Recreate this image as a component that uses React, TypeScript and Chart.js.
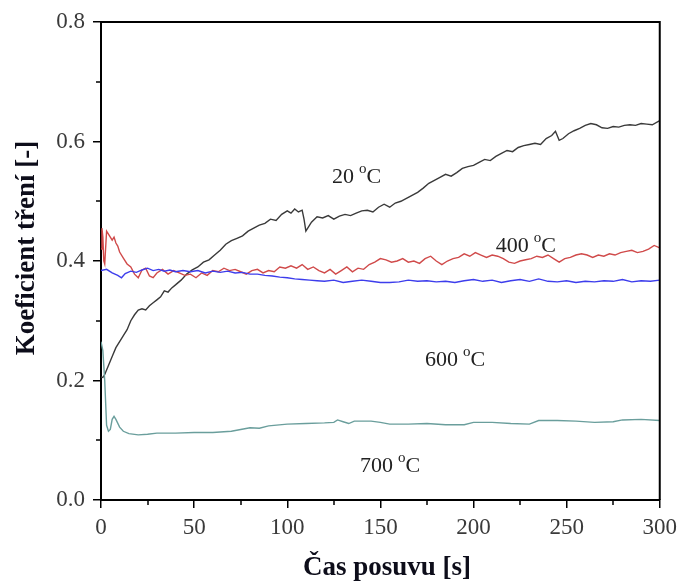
import React, { useEffect, useRef } from "react";
import { Chart, registerables } from "chart.js";

Chart.register(...registerables);

const xTicks = [0, 50, 100, 150, 200, 250, 300];
const yTicks = [0.0, 0.2, 0.4, 0.6, 0.8];
const xMinor = [25, 75, 125, 175, 225, 275];
const yMinor = [0.1, 0.3, 0.5, 0.7];

const t20 = [0, 1, 2, 4, 6, 8, 10, 12, 14, 16, 18, 20, 22, 24, 26, 28, 30, 32, 34, 36, 38, 40, 43, 46, 49, 52, 55, 58, 61, 64, 67, 70, 73, 76, 79, 82, 85, 88, 91, 94, 97, 100, 102, 104, 106, 108, 109, 110, 111, 113, 116, 119, 122, 125, 128, 131, 134, 137, 140, 143, 146, 149, 152, 155, 158, 161, 164, 167, 170, 173, 176, 179, 182, 185, 188, 191, 194, 197, 200, 203, 206, 209, 212, 215, 218, 221, 224, 227, 230, 233, 236, 239, 242, 244, 246, 248, 251, 254, 257, 260, 263, 266, 269, 272, 275, 278, 281, 284, 287, 290, 293, 296, 300];
const v20 = [0.206, 0.205, 0.21, 0.225, 0.24, 0.255, 0.265, 0.275, 0.285, 0.3, 0.31, 0.318, 0.32, 0.318, 0.325, 0.33, 0.335, 0.34, 0.35, 0.348, 0.355, 0.36, 0.368, 0.378, 0.385, 0.39, 0.398, 0.402, 0.41, 0.418, 0.428, 0.434, 0.438, 0.442, 0.45, 0.455, 0.46, 0.463, 0.47, 0.468, 0.478, 0.484, 0.48, 0.487, 0.482, 0.485, 0.47, 0.45, 0.455, 0.465, 0.474, 0.472, 0.476, 0.47, 0.475, 0.478, 0.476, 0.48, 0.484, 0.485, 0.482, 0.49, 0.495, 0.49, 0.497, 0.5, 0.505, 0.51, 0.515, 0.522, 0.53, 0.535, 0.54, 0.545, 0.542, 0.548, 0.555, 0.558, 0.56, 0.565, 0.57, 0.568, 0.575, 0.58, 0.585, 0.583, 0.59, 0.593, 0.595, 0.597, 0.595, 0.605, 0.61, 0.617, 0.602, 0.605, 0.613, 0.618, 0.622, 0.627, 0.63, 0.628, 0.623, 0.622, 0.625, 0.624, 0.627, 0.628, 0.627, 0.63, 0.629, 0.628, 0.635];

const t400 = [0, 0.5, 1, 1.5, 2, 3, 4, 5, 6, 7, 8, 9, 10, 12, 14, 16, 18, 20, 22, 24, 26, 28, 30, 33, 36, 39, 42, 45, 48, 51, 54, 57, 60, 63, 66, 69, 72, 75, 78, 81, 84, 87, 90, 93, 96, 99, 102, 105, 108, 111, 114, 117, 120, 123, 126, 129, 132, 135, 138, 141, 144, 147, 150, 153, 156, 159, 162, 165, 168, 171, 174, 177, 180, 183, 186, 189, 192, 195, 198, 201, 204, 207, 210, 213, 216, 219, 222, 225, 228, 231, 234, 237, 240, 243, 246, 249, 252, 255, 258, 261, 264, 267, 270, 273, 276, 279, 282, 285, 288, 291, 294, 297, 300];
const v400 = [0.42, 0.455, 0.44, 0.4, 0.395, 0.45, 0.445, 0.44, 0.435, 0.44, 0.43, 0.425, 0.415, 0.405, 0.395, 0.39, 0.378, 0.372, 0.385, 0.388, 0.375, 0.372, 0.38, 0.386, 0.378, 0.384, 0.38, 0.376, 0.378, 0.372, 0.38, 0.376, 0.384, 0.382, 0.388, 0.384, 0.386, 0.382, 0.378, 0.384, 0.386, 0.38, 0.384, 0.382, 0.39, 0.388, 0.392, 0.388, 0.394, 0.386, 0.39, 0.384, 0.38, 0.386, 0.378, 0.384, 0.39, 0.382, 0.388, 0.386, 0.394, 0.398, 0.404, 0.402, 0.398, 0.4, 0.404, 0.398, 0.4, 0.396, 0.404, 0.408, 0.4, 0.394, 0.4, 0.404, 0.406, 0.412, 0.408, 0.414, 0.41, 0.406, 0.41, 0.408, 0.404, 0.398, 0.396, 0.4, 0.402, 0.404, 0.408, 0.406, 0.41, 0.404, 0.398, 0.404, 0.406, 0.41, 0.412, 0.41, 0.406, 0.41, 0.408, 0.412, 0.41, 0.414, 0.416, 0.418, 0.414, 0.416, 0.42, 0.426, 0.422];

const t600 = [0, 3, 6, 9, 11, 13, 16, 19, 22, 25, 28, 31, 34, 37, 40, 44, 48, 52, 56, 60, 64, 68, 72, 76, 80, 84, 88, 92, 96, 100, 104, 108, 112, 116, 120, 125, 130, 135, 140, 145, 150, 155, 160, 165, 170, 175, 180, 185, 190, 195, 200, 205, 210, 215, 220, 225, 230, 235, 240, 245, 250, 255, 260, 265, 270, 275, 280, 285, 290, 295, 300];
const v600 = [0.384, 0.386, 0.38, 0.376, 0.372, 0.379, 0.383, 0.381, 0.385, 0.388, 0.384, 0.386, 0.383, 0.385, 0.382, 0.384, 0.382, 0.384, 0.38, 0.383, 0.381, 0.383, 0.38, 0.381, 0.378, 0.378, 0.376, 0.375, 0.373, 0.372, 0.37, 0.369, 0.368, 0.367, 0.366, 0.368, 0.364, 0.366, 0.368, 0.366, 0.364, 0.364, 0.365, 0.368, 0.366, 0.367, 0.365, 0.366, 0.364, 0.367, 0.369, 0.366, 0.368, 0.364, 0.367, 0.369, 0.366, 0.37, 0.366, 0.365, 0.367, 0.364, 0.366, 0.365, 0.367, 0.366, 0.369, 0.365, 0.367, 0.366, 0.368];

const t700 = [0, 1, 2, 3, 4, 5, 6, 7, 8, 10, 12, 15, 20, 25, 30, 40, 50, 60, 70, 75, 80, 85, 90, 100, 110, 120, 125, 127, 130, 133, 136, 145, 150, 155, 165, 175, 185, 195, 200, 210, 220, 230, 235, 245, 255, 265, 275, 280, 290, 300];
const v700 = [0.265, 0.25, 0.2, 0.125, 0.115, 0.118, 0.135, 0.14, 0.135, 0.122, 0.115, 0.111, 0.109, 0.11, 0.112, 0.112, 0.113, 0.113, 0.115, 0.118, 0.121, 0.12, 0.124, 0.127, 0.128, 0.129, 0.13, 0.134, 0.131, 0.128, 0.132, 0.132, 0.13, 0.127, 0.127, 0.128, 0.126, 0.126, 0.13, 0.13, 0.128, 0.127, 0.133, 0.133, 0.132, 0.13, 0.131, 0.134, 0.135, 0.133];

const labels = [
  { text: "20", t: 124, v: 0.53 },
  { text: "400", t: 212, v: 0.415 },
  { text: "600", t: 174, v: 0.225 },
  { text: "700", t: 139, v: 0.047 },
];

const SERIF = '"Liberation Serif", "Times New Roman", serif';

function pts(t: number[], v: number[]) {
  return t.map((x, i) => ({ x, y: v[i] }));
}

const decor = {
  id: "decor",
  afterDraw(chart: any) {
    const { ctx, chartArea } = chart;
    const xs = chart.scales.x;
    const ys = chart.scales.y;
    ctx.save();
    ctx.strokeStyle = "#000";
    ctx.lineWidth = 1.5;
    ctx.beginPath();
    for (const m of xMinor) {
      const px = Math.round(xs.getPixelForValue(m));
      ctx.moveTo(px, chartArea.bottom);
      ctx.lineTo(px, chartArea.bottom + 5);
    }
    for (const m of yMinor) {
      const py = Math.round(ys.getPixelForValue(m));
      ctx.moveTo(chartArea.left, py);
      ctx.lineTo(chartArea.left - 5, py);
    }
    ctx.stroke();
    ctx.lineWidth = 2;
    ctx.beginPath();
    ctx.moveTo(chartArea.left, chartArea.top);
    ctx.lineTo(chartArea.right, chartArea.top);
    ctx.lineTo(chartArea.right, chartArea.bottom);
    ctx.stroke();

    // temperature labels
    ctx.fillStyle = "#222";
    ctx.textBaseline = "alphabetic";
    ctx.textAlign = "left";
    for (const l of labels) {
      const x = xs.getPixelForValue(l.t);
      const y = ys.getPixelForValue(l.v);
      ctx.font = `22px ${SERIF}`;
      ctx.fillText(l.text, x, y);
      let cx = x + ctx.measureText(l.text).width + 5;
      ctx.font = `15px ${SERIF}`;
      ctx.fillText("o", cx, y - 10);
      cx += ctx.measureText("o").width;
      ctx.font = `22px ${SERIF}`;
      ctx.fillText("C", cx, y);
    }

    // axis titles
    ctx.fillStyle = "#0d0d1a";
    ctx.font = `bold 27px ${SERIF}`;
    ctx.textAlign = "center";
    ctx.textBaseline = "middle";
    ctx.fillText("Čas posuvu [s]", 387, 568);
    ctx.translate(27, 248);
    ctx.rotate(-Math.PI / 2);
    ctx.fillText("Koeficient tření [-]", 0, 0);
    ctx.restore();
  },
};

export default function App() {
  const ref = useRef<HTMLCanvasElement>(null);
  useEffect(() => {
    if (!ref.current) return;
    const tickFont = { family: SERIF, size: 23 };
    const chart = new Chart(ref.current, {
      type: "line",
      data: {
        datasets: [
          { label: "700 °C", data: pts(t700, v700), borderColor: "#6a9e9c", borderWidth: 1.4, pointRadius: 0, tension: 0 },
          { label: "600 °C", data: pts(t600, v600), borderColor: "#3d3dec", borderWidth: 1.4, pointRadius: 0, tension: 0 },
          { label: "400 °C", data: pts(t400, v400), borderColor: "#d04a4a", borderWidth: 1.4, pointRadius: 0, tension: 0 },
          { label: "20 °C", data: pts(t20, v20), borderColor: "#3a3a3a", borderWidth: 1.4, pointRadius: 0, tension: 0 },
        ],
      },
      options: {
        animation: false,
        responsive: false,
        devicePixelRatio: 1,
        layout: { padding: { top: 22, right: 23, left: 0, bottom: 0 } },
        plugins: { legend: { display: false }, tooltip: { enabled: false } },
        scales: {
          x: {
            type: "linear",
            min: 0,
            max: 300,
            afterFit: (s: any) => { s.height = 84; },
            afterBuildTicks: (s: any) => { s.ticks = xTicks.map((value) => ({ value })); },
            ticks: { font: tickFont, color: "#3a3a3a", padding: 6, maxRotation: 0, autoSkip: false },
            grid: { drawOnChartArea: false, drawTicks: true, tickLength: 8, color: "#000", lineWidth: 1.5 },
            border: { display: true, color: "#000", width: 2 },
          },
          y: {
            min: 0,
            max: 0.8,
            afterFit: (s: any) => { s.width = 101; },
            afterBuildTicks: (s: any) => { s.ticks = yTicks.map((value) => ({ value })); },
            ticks: { font: tickFont, color: "#3a3a3a", padding: 8, autoSkip: false, callback: (v: any) => Number(v).toFixed(1) },
            grid: { drawOnChartArea: false, drawTicks: true, tickLength: 8, color: "#000", lineWidth: 1.5 },
            border: { display: true, color: "#000", width: 2 },
          },
        },
      },
      plugins: [decor],
    });
    return () => chart.destroy();
  }, []);
  return (
    <div style={{ position: "absolute", left: 0, top: 0, width: 683, height: 584, background: "#fff" }}>
      <canvas ref={ref} width={683} height={584} />
    </div>
  );
}
